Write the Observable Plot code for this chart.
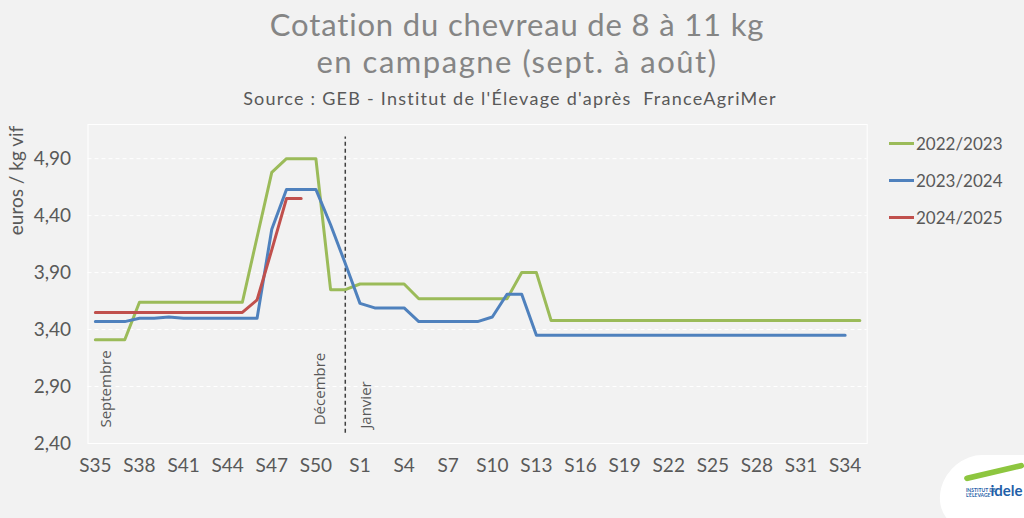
<!DOCTYPE html>
<html>
<head>
<meta charset="utf-8">
<script src="https://cdn.jsdelivr.net/npm/d3@7"></script>
<script src="https://cdn.jsdelivr.net/npm/@observablehq/plot@0.6"></script>
<style>
  html, body { margin: 0; padding: 0; background: #F2F2F2; }
  #wrap { position: relative; width: 1024px; height: 518px; overflow: hidden; background: #F2F2F2; font-family: Lato, "Noto Sans", sans-serif; }
  .hdr { position: absolute; white-space: nowrap; transform: translateX(-50%); line-height: 1; }
  #t1 { left: 517px; top: 9px; font-size: 31px; color: #858585; }
  #t2 { left: 517px; top: 46px; font-size: 31px; color: #858585; }
  #src { left: 510px; top: 89px; font-size: 18px; color: #595959; }
  #chart { position: absolute; left: 0; top: 110px; }
  #legend { position: absolute; left: 889px; top: 132px; font-size: 17px; color: #595959; }
  .li { position: absolute; left: 0; white-space: nowrap; height: 22px; display: flex; align-items: center; }
  .li span.sw { display: inline-block; width: 25px; height: 3px; margin-right: 2px; }
  #logo { position: absolute; left: 940px; top: 455px; width: 100px; height: 75px; background: #fff; border-radius: 34px 10px 0 44px; transform: skewX(-14deg); }
  #logo .g { position: absolute; left: 20px; top: 14px; width: 58px; height: 6px; border-radius: 6px; background: #8DC63F; transform: rotate(-14deg) skewX(14deg); }
  #logo .a { position: absolute; left: 26px; top: 33px; font-size: 5px; line-height: 5px; color: #1F5FA8; font-weight: bold; transform: skewX(14deg); }
  #logo .b { position: absolute; left: 50px; top: 28px; font-size: 15px; line-height: 15px; color: #1F5FA8; font-weight: bold; transform: skewX(14deg); }
</style>
</head>
<body>
<div id="wrap">
  <div class="hdr" id="t1">Cotation du chevreau de 8 à 11 kg</div>
  <div class="hdr" id="t2">en campagne (sept. à août)</div>
  <div class="hdr" id="src">Source : GEB - Institut de l'Élevage d'après&nbsp; FranceAgriMer</div>
  <div id="chart"></div>
  <div id="legend"></div>
  <div id="logo"><div class="g"></div><div class="a">INSTITUT DE<br>L'ÉLEVAGE</div><div class="b">idele</div></div>
</div>
<script>
// ---- data ----
const weeks = ["S35","S36","S37","S38","S39","S40","S41","S42","S43","S44","S45","S46","S47","S48","S49","S50","S51","S52",
  "S1","S2","S3","S4","S5","S6","S7","S8","S9","S10","S11","S12","S13","S14","S15","S16","S17","S18","S19","S20",
  "S21","S22","S23","S24","S25","S26","S27","S28","S29","S30","S31","S32","S33","S34","S35"];
const seasons = ["2022/2023", "2023/2024", "2024/2025"];
const colors = ["#9BBB59", "#4F81BD", "#C0504D"];
const values2022 = [3.31,3.31,3.31,3.64,3.64,3.64,3.64,3.64,3.64,3.64,3.64,4.21,4.78,4.90,4.90,4.90,3.75,3.75,
  3.80,3.80,3.80,3.80,3.67,3.67,3.67,3.67,3.67,3.67,3.67,3.90,3.90,3.48,3.48,3.48,3.48,3.48,3.48,3.48,
  3.48,3.48,3.48,3.48,3.48,3.48,3.48,3.48,3.48,3.48,3.48,3.48,3.48,3.48,3.48];
const values2023 = [3.47,3.47,3.47,3.50,3.50,3.51,3.50,3.50,3.50,3.50,3.50,3.50,4.28,4.63,4.63,4.63,4.32,3.98,
  3.63,3.59,3.59,3.59,3.47,3.47,3.47,3.47,3.47,3.51,3.71,3.71,3.35,3.35,3.35,3.35,3.35,3.35,3.35,3.35,
  3.35,3.35,3.35,3.35,3.35,3.35,3.35,3.35,3.35,3.35,3.35,3.35,3.35,3.35];
const values2024 = [3.55,3.55,3.55,3.55,3.55,3.55,3.55,3.55,3.55,3.55,3.55,3.66,4.10,4.55,4.55];
const yTicks = [2.40, 2.90, 3.40, 3.90, 4.40, 4.90];
const yLabel = "euros / kg vif";
const monthLabels = ["Septembre", "Décembre", "Janvier"];

// ---- table ----
const series = [values2022, values2023, values2024];
const rows = series.flatMap((vals, s) => vals.map((v, i) => ({week: i, value: v, season: seasons[s]})));
const xTicks = d3.range(0, 52, 3);
const fr = d => d.toFixed(2).replace(".", ",");

const chart = Plot.plot({
  width: 1024,
  height: 408,
  marginTop: 14,
  marginLeft: 87.5,
  marginRight: 157.3,
  marginBottom: 75,
  style: {background: "#F2F2F2", fontFamily: "Lato, 'Noto Sans', sans-serif", fontSize: "19px", color: "#595959"},
  x: {type: "linear", domain: [-0.5, weeks.length - 0.5], ticks: xTicks, tickFormat: i => weeks[i], tickSize: 0, tickPadding: 15, label: null},
  y: {domain: [2.4, 5.2], ticks: yTicks, tickFormat: fr, tickSize: 0, tickPadding: 17, label: null},
  color: {domain: seasons, range: colors},
  marks: [
    Plot.frame({stroke: "#FFFFFF", strokeWidth: 1}),
    Plot.gridY(yTicks.slice(1), {stroke: "#FFFFFF", strokeOpacity: 1, strokeDasharray: "4,3", strokeWidth: 1}),
    Plot.ruleX([17], {y1: 2.49, y2: 5.09, stroke: "#404040", strokeDasharray: "4,3", strokeWidth: 1.5}),
    Plot.text(monthLabels, {x: [0.76, 15.3, 18.4], y: [2.54, 2.56, 2.53], text: d => d, rotate: -90,
      textAnchor: "start", lineAnchor: "middle", fontSize: 15, fill: "#595959", fontFamily: "'Open Sans', sans-serif"}),
    Plot.line(rows, {x: "week", y: "value", z: "season", stroke: "season", strokeWidth: 3, strokeLinejoin: "round"}),
    Plot.text([yLabel], {frameAnchor: "top-left", dx: -71.5, dy: 56, rotate: -90, textAnchor: "middle",
      lineAnchor: "middle", fontSize: 19, fill: "#595959"})
  ]
});
document.getElementById("chart").appendChild(chart);

// legend
const leg = document.getElementById("legend");
seasons.forEach((s, k) => {
  const d = document.createElement("div");
  d.className = "li";
  d.style.top = (k * 37) + "px";
  d.innerHTML = `<span class="sw" style="background:${colors[k]}"></span>${s}`;
  leg.appendChild(d);
});

// fit header widths
function fit(id, target) {
  const el = document.getElementById(id);
  const w = el.getBoundingClientRect().width;
  const n = el.textContent.length;
  el.style.letterSpacing = ((target - w) / n) + "px";
}
fit("t1", 495); fit("t2", 401); fit("src", 534);
</script>
</body>
</html>
